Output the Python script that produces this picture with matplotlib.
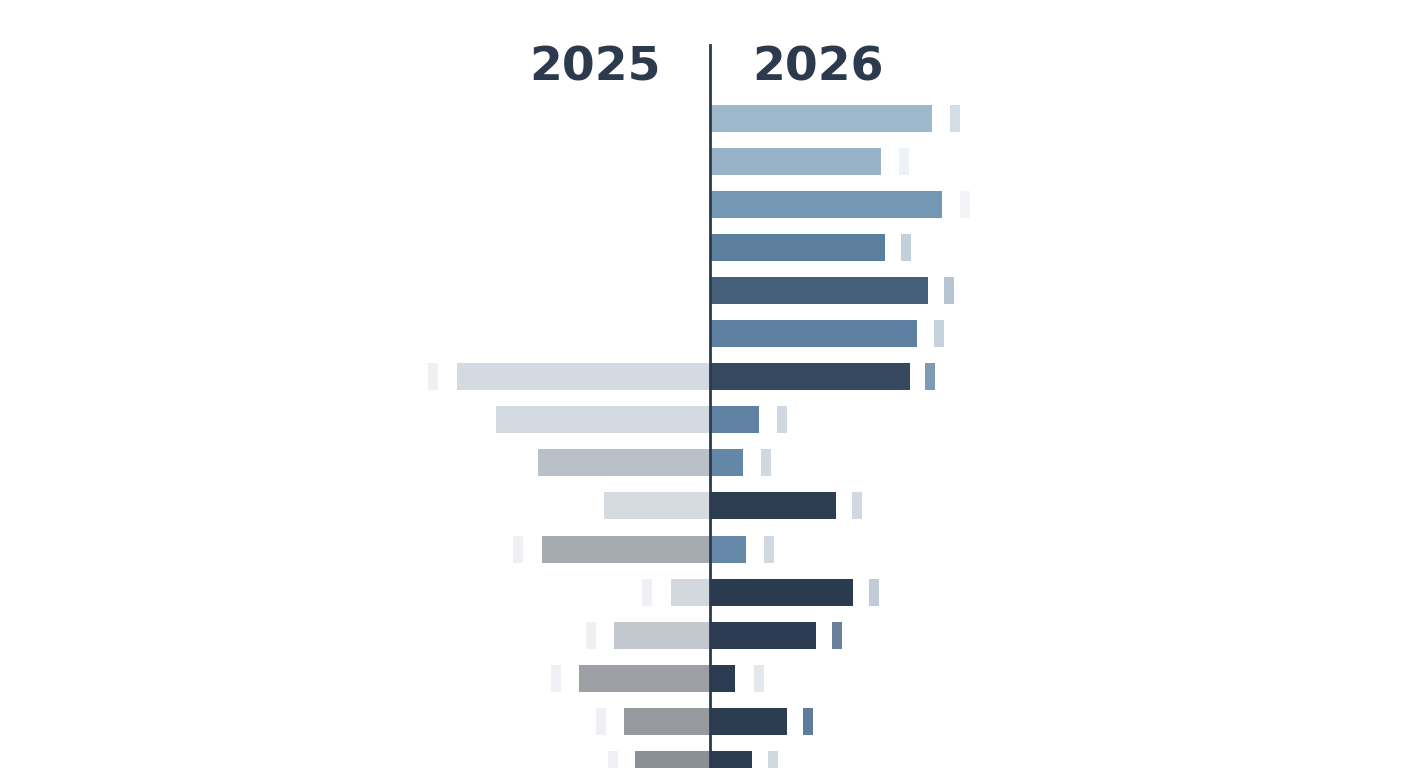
import matplotlib
matplotlib.use("Agg")
import matplotlib.pyplot as plt

rows = list(range(16))
v2026 = [222, 171, 232, 175, 218, 207, 200, 49, 33, 126, 36, 143, 106, 25, 77, 42]
m2026 = [245, 194, 255, 196, 239, 229, 220, 72, 56, 147, 59, 164, 127, 49, 98, 63]
v2025 = [0, 0, 0, 0, 0, 0, 253, 214, 172, 106, 168, 39, 96, 131, 86, 75]
m2025 = [None]*6 + [277, None, None, None, 192, 63, 119, 154, 109, 97]
c2026 = ["#9fb9cc", "#98b3c8", "#7497b3", "#5c7f9e", "#455f7a", "#5f81a1", "#34495f", "#5f82a2",
         "#6587a7", "#2d3e53", "#6789a9", "#2a3b50", "#2b3c52", "#2b3c52", "#2c3d52", "#2c3d52"]
mc2026 = ["#d3dde6", "#eef1f5", "#f2f4f7", "#c3d0dc", "#b5c5d3", "#c5d2dd", "#7f9bb3", "#d0d9e1",
          "#d0d9e1", "#d0d9e1", "#d0d9e1", "#c0ccd7", "#6a7f99", "#e3e8ed", "#5f7d9b", "#d0d9e1"]
c2025 = [None]*6 + ["#d3dae2", "#d3d9e0", "#b9c0c8", "#d6dbe2", "#a5abb0", "#d3d8de",
                    "#c3c8ce", "#9ca0a5", "#969a9f", "#8a9096"]
center = 710
y0, dy = 118, 43.1

fig = plt.figure(figsize=(14.08, 7.68), dpi=100)
ax = fig.add_axes([0, 0, 1, 1])
ax.set_xlim(0, 1408); ax.set_ylim(768, 0); ax.axis("off")
ys = [y0 + i*dy for i in rows]
ax.barh(ys, v2026, left=center, height=27, color=c2026)
ax.barh(ys, [10]*16, left=[center + m - 5 for m in m2026], height=27, color=mc2026)
for i in rows:
    if v2025[i]:
        ax.barh(ys[i], v2025[i], left=center - v2025[i], height=27, color=c2025[i])
    if m2025[i]:
        ax.barh(ys[i], 10, left=center - m2025[i] - 5, height=27, color="#eef0f3")
ax.plot([center, center], [45, 768], color="#2b3a4d", lw=2)
ax.text(595, 68, "2025", ha="center", va="center", fontsize=34, fontweight="bold", color="#2b3a4d")
ax.text(818, 68, "2026", ha="center", va="center", fontsize=34, fontweight="bold", color="#2b3a4d")
fig.savefig("out.png", dpi=100, facecolor="white")
